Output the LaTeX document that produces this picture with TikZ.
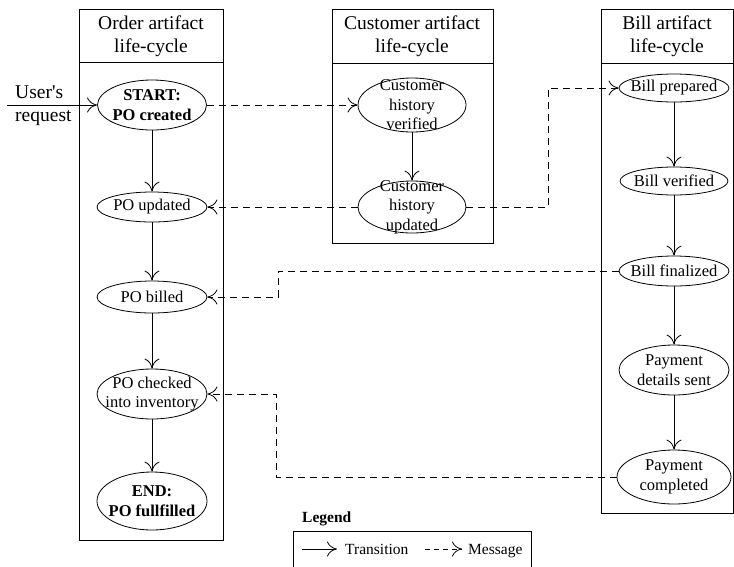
\documentclass[tikz,border=0pt]{standalone}
\usepackage{fontspec}
\setmainfont{Liberation Serif}
\usetikzlibrary{shapes.geometric,arrows.meta}
\tikzset{
  lc/.style={draw, line width=0.8pt},
  state/.style={ellipse, draw, line width=0.8pt, inner xsep=-30pt, inner ysep=-20pt, align=center,
    font=\fontsize{16.5}{19.5}\selectfont},
  tip/.style={-{To[length=10pt,width=15pt]}},
  trans/.style={line width=0.8pt, tip},
  msg/.style={line width=0.8pt, dash pattern=on 7pt off 5pt, tip},
  head/.style={align=center, font=\fontsize{19.5}{23}\selectfont},
}
\begin{document}
\begin{tikzpicture}[x=1pt,y=-1pt]
\useasboundingbox (0,0) rectangle (734,566);
% boxes
\draw[lc] (79,9) rectangle (223,540);
\draw[lc] (79,62) -- (223,62);
\draw[lc] (332,9) rectangle (493,243);
\draw[lc] (332,63) -- (493,63);
\draw[lc] (601,9) rectangle (733,513);
\draw[lc] (601,63) -- (733,63);
\node[head] (hord) at (151,36) {Order artifact\\life-cycle};
\node[head] (hcus) at (412,36) {Customer artifact\\life-cycle};
\node[head] (hbil) at (667,36) {Bill artifact\\life-cycle};
% order states
\node[state, minimum width=109pt, minimum height=50pt, font=\fontsize{16.5}{20}\selectfont\bfseries] (start) at (152,105) {START:\\PO created};
\node[state, minimum width=110pt, minimum height=30pt] (poupd) at (152,207) {PO updated};
\node[state, minimum width=110pt, minimum height=32pt] (pobill) at (152,297) {PO billed};
\node[state, minimum width=110pt, minimum height=50pt] (pochk) at (152,394) {PO checked\\into inventory};
\node[state, minimum width=110pt, minimum height=58pt, font=\fontsize{16.5}{20}\selectfont\bfseries] (poend) at (152,501) {END:\\PO fullfilled};
% customer states
\node[state, minimum width=108pt, minimum height=54pt] (cver) at (412,105) {Customer\\history\\verified};
\node[state, minimum width=108pt, minimum height=52pt] (cupd) at (412,207) {Customer\\history\\updated};
% bill states
\node[state, minimum width=110pt, minimum height=28pt] (bprep) at (674,88) {Bill prepared};
\node[state, minimum width=108pt, minimum height=28pt] (bver) at (674,181) {Bill verified};
\node[state, minimum width=110pt, minimum height=30pt] (bfin) at (674,271) {Bill finalized};
\node[state, minimum width=110pt, minimum height=50pt] (pdet) at (674,370) {Payment\\details sent};
\node[state, minimum width=114pt, minimum height=54pt] (pcomp) at (674,477) {Payment\\completed};
% transitions
\draw[trans] (start) -- (poupd);
\draw[trans] (poupd) -- (pobill);
\draw[trans] (pobill) -- (pochk);
\draw[trans] (pochk) -- (poend);
\draw[trans] (cver) -- (cupd);
\draw[trans] (bprep) -- (bver);
\draw[trans] (bver) -- (bfin);
\draw[trans] (bfin) -- (pdet);
\draw[trans] (pdet) -- (pcomp);
% user's request
\coordinate (ureq) at (7,105);
\draw[trans] (ureq) -- (start.west);
\node[anchor=base west, font=\fontsize{19.5}{23}\selectfont, inner sep=0pt] (ulab1) at (15,98) {User\textquotesingle s};
\node[anchor=base west, font=\fontsize{19.5}{23}\selectfont, inner sep=0pt] (ulab2) at (15,121) {request};
% messages
\draw[msg] (start.east) -- (cver.west);
\draw[msg] (cupd.west) -- (poupd.east);
\coordinate (m3a) at (548,207);
\coordinate (m3b) at (548,88);
\draw[msg] (cupd.east) -- (m3a) -- (m3b) -- (bprep.west);
\coordinate (m4a) at (278,271);
\coordinate (m4b) at (278,297);
\draw[msg] (bfin.west) -- (m4a) -- (m4b) -- (pobill.east);
\coordinate (m5a) at (276,477);
\coordinate (m5b) at (276,394);
\draw[msg] (pcomp.west) -- (m5a) -- (m5b) -- (pochk.east);
% legend
\node[anchor=base west, inner sep=0pt, font=\fontsize{15.5}{18}\selectfont\bfseries] (leg) at (302,522) {Legend};
\draw[lc] (293,570) -- (293,531) -- (531,531) -- (531,570);
\coordinate (lt1) at (302,549);
\coordinate (lt2) at (337,549);
\draw[trans] (lt1) -- (lt2);
\node[anchor=base west, inner sep=0pt, font=\fontsize{15.5}{18}\selectfont] (ltt) at (345,554) {Transition};
\coordinate (lm1) at (425,549);
\coordinate (lm2) at (462,549);
\draw[line width=0.8pt, dash pattern=on 5pt off 4pt, tip] (lm1) -- (lm2);
\node[anchor=base west, inner sep=0pt, font=\fontsize{15.5}{18}\selectfont] (lmt) at (468,554) {Message};
\end{tikzpicture}
\end{document}
